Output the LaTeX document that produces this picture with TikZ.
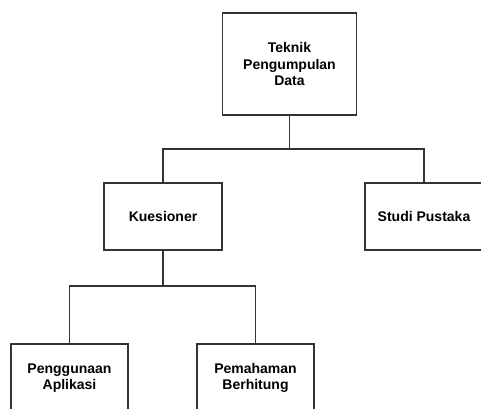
\documentclass[tikz,border=0pt]{standalone}
\usepackage{fontspec}
\setmainfont{Liberation Sans}
\usepackage{tikz}

\begin{document}
\begin{tikzpicture}[x=0.75pt,y=-0.75pt,
    box/.style={draw=black!80, line width=0.8pt, fill=white, align=center,
        font=\bfseries\fontsize{10.5}{12.4}\selectfont, inner sep=0pt},
    link/.style={draw=black!80, line width=0.8pt}]
    % Frame
    \useasboundingbox (0,0) rectangle (481,408);

    % Top box
    \node[box, minimum width=134*0.75pt, minimum height=102*0.75pt] (teknik) at (289.5,64) {Teknik\\Pengumpulan\\Data};

    % Second level
    \node[box, minimum width=118*0.75pt, minimum height=67*0.75pt] (kuesioner) at (163,216.5) {Kuesioner};
    \node[box, minimum width=118*0.75pt, minimum height=67*0.75pt] (studi) at (424,216.5) {Studi Pustaka};

    % Third level
    \node[box, minimum width=117*0.75pt, minimum height=68*0.75pt] (penggunaan) at (69.5,378) {Penggunaan\\Aplikasi};
    \node[box, minimum width=117*0.75pt, minimum height=68*0.75pt] (pemahaman) at (255.5,378) {Pemahaman\\Berhitung};

    % Bus lines
    \coordinate (bus1) at (289,149);
    \coordinate (bus2) at (163,286);

    % Connectors
    \draw[link] (teknik.south) -- (teknik.south |- bus1) -| (kuesioner.north);
    \draw[link] (teknik.south |- bus1) -| (studi.north);
    \draw[link] (kuesioner.south) -- (kuesioner.south |- bus2) -| (penggunaan.north);
    \draw[link] (kuesioner.south |- bus2) -| (pemahaman.north);
\end{tikzpicture}
\end{document}
